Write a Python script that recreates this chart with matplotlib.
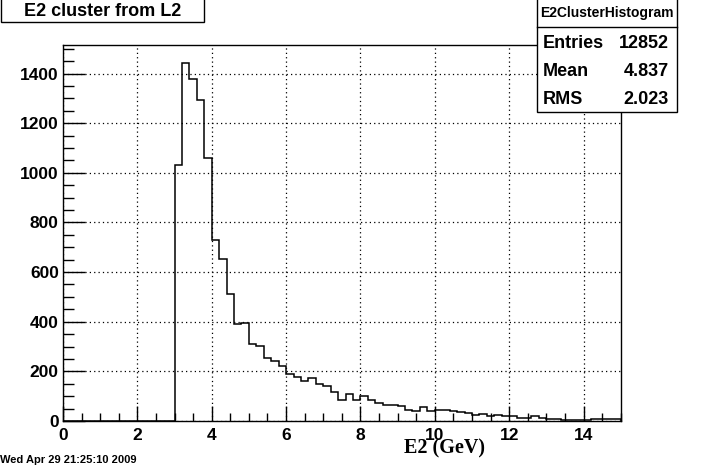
import numpy as np
import matplotlib
matplotlib.use('Agg')
import matplotlib.pyplot as plt
from matplotlib.patches import Rectangle
from matplotlib.ticker import MultipleLocator

# histogram binning and contents
bin_lo = 0.0
bin_hi = 15.0
n_bins = 75
counts = [0] * 15 + [
    1030, 1444, 1376, 1295, 1058,
    730, 651, 510, 389, 395,
    310, 302, 252, 243, 223,
    190, 176, 163, 173, 149,
    143, 117, 84, 110, 84,
    100, 84, 72, 66, 66,
    60, 44, 39, 55, 40,
    45, 43, 39, 35, 31,
    24, 28, 20, 25, 21,
    20, 13, 13, 19, 13,
    9, 7, 5, 4, 3,
    4, 9, 7, 9, 9,
]
stat_names = ['Entries', 'Mean', 'RMS']
stat_values = ['12852', '4.837', '2.023']
hist_name = 'E2ClusterHistogram'
title = 'E2 cluster from L2'
xlabel = 'E2 (GeV)'
date_text = 'Wed Apr 29 21:25:10 2009'

W, H = 720, 468
sans = ['Liberation Sans', 'DejaVu Sans']
serif = ['Liberation Serif', 'DejaVu Serif']
plt.rcParams['font.family'] = sans

fig = plt.figure(figsize=(W / 100, H / 100), dpi=100)
fig.patch.set_facecolor('white')


def fx(px):
    return px / W


def fy(py):
    return 1 - py / H


ax = fig.add_axes([fx(63), fy(421), fx(620.7) - fx(63), fy(45) - fy(421)])
edges = np.linspace(bin_lo, bin_hi, n_bins + 1)
ax.stairs(counts, edges, baseline=0, color='black', linewidth=1.1)
ax.set_xlim(bin_lo, bin_hi)
ax.set_ylim(0, 1515)

ax.xaxis.set_major_locator(MultipleLocator(2))
ax.xaxis.set_minor_locator(MultipleLocator(0.5))
ax.yaxis.set_major_locator(MultipleLocator(200))
ax.yaxis.set_minor_locator(MultipleLocator(50))
ax.tick_params(axis='x', which='major', direction='in', length=11, width=1, pad=5)
ax.tick_params(axis='x', which='minor', direction='in', length=5.5, width=1)
ax.tick_params(axis='y', which='major', direction='in', length=16, width=1, pad=3)
ax.tick_params(axis='y', which='minor', direction='in', length=8, width=1)
for lab in ax.get_xticklabels() + ax.get_yticklabels():
    lab.set_fontweight('bold')
    lab.set_fontsize(12.5)
ax.grid(True, which='major', color='black', linestyle=(0, (1, 2.5)), linewidth=0.9)
for sp in ax.spines.values():
    sp.set_linewidth(1)

fig.text(fx(444), fy(448), xlabel, family=serif, fontsize=14.5, fontweight='bold',
         ha='center', va='center')

# title box
fig.patches.append(Rectangle((fx(1), fy(22)), fx(204) - fx(1), fy(-2) - fy(22),
                             transform=fig.transFigure, facecolor='white',
                             edgecolor='black', linewidth=1))
fig.text(fx(103), fy(11), title, fontsize=13, fontweight='bold',
         ha='center', va='center')

# stats box
fig.patches.append(Rectangle((fx(537), fy(112)), fx(677) - fx(537), fy(-2) - fy(112),
                             transform=fig.transFigure, facecolor='white',
                             edgecolor='black', linewidth=1))
fig.add_artist(plt.Line2D([fx(537), fx(677)], [fy(27), fy(27)],
                          transform=fig.transFigure, color='black', linewidth=1))
fig.text(fx(607), fy(13), hist_name, fontsize=10, fontweight='bold',
         ha='center', va='center')
row_y = [43, 72, 100]
for name, val, yy in zip(stat_names, stat_values, row_y):
    fig.text(fx(543), fy(yy), name, fontsize=13, fontweight='bold',
             ha='left', va='center')
    fig.text(fx(669), fy(yy), val, fontsize=13, fontweight='bold',
             ha='right', va='center')

fig.text(fx(0), fy(460), date_text, fontsize=8, fontweight='bold',
         ha='left', va='center')

fig.savefig('out.png', dpi=100)
